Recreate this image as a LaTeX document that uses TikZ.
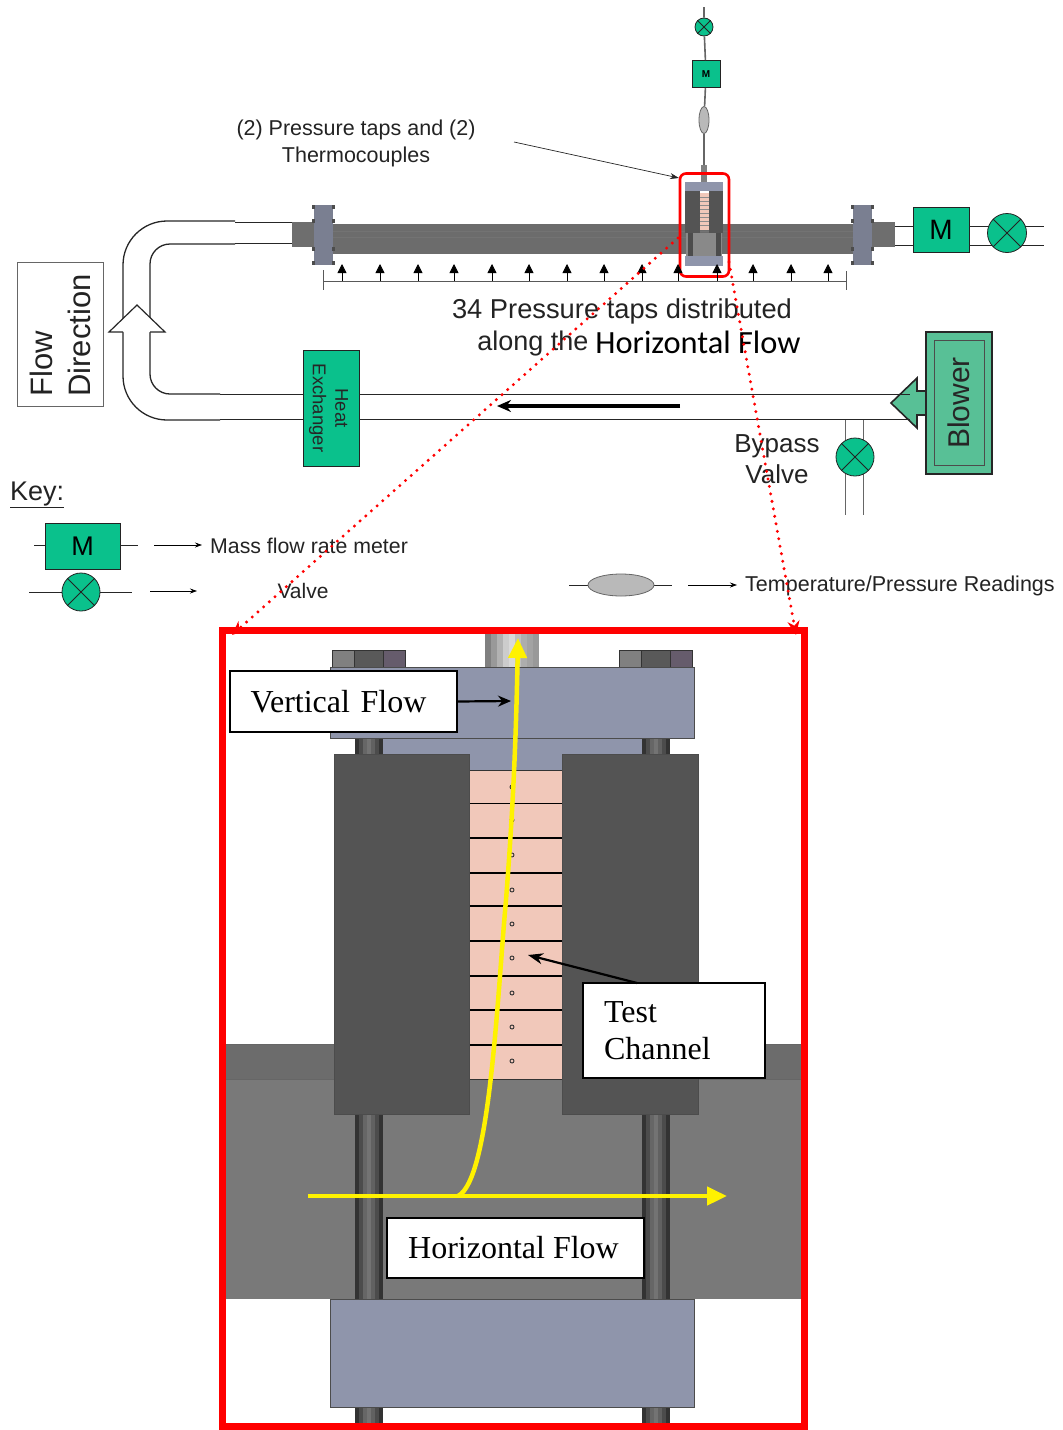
\documentclass[tikz,border=0pt]{standalone}
\usepackage{fontspec}
\setmainfont{Liberation Sans}
\newfontfamily\bodyserif{Liberation Serif}
\newfontfamily\bodycal{Carlito}
\usetikzlibrary{arrows.meta,shapes.geometric}
\definecolor{metergreen}{RGB}{10,193,140}
\definecolor{blowgreen}{RGB}{88,192,150}
\definecolor{plategray}{RGB}{143,149,171}
\definecolor{blockgray}{RGB}{84,84,84}
\definecolor{pipegray}{RGB}{121,121,121}
\definecolor{bandgray}{RGB}{108,108,108}
\definecolor{channelpink}{RGB}{241,200,186}
\definecolor{inkgray}{RGB}{35,35,35}
\definecolor{boltmauve}{RGB}{102,92,108}
\begin{document}
\begin{tikzpicture}[x=1pt,y=-1pt,
  meter/.style={draw=inkgray,fill=metergreen,line width=0.9pt,inner sep=0pt,text=black},
  valve/.style={circle,draw=inkgray,fill=metergreen,line width=0.8pt,inner sep=0pt,minimum size=#1},
  reading/.style={ellipse,draw=gray!80!black,fill=gray!55,line width=0.8pt,inner sep=0pt},
  wall/.style={draw=black!85,line width=0.9pt},
  pipebend/.style={draw=black!85,line width=1.3pt},
  txt/.style={text=inkgray,font=\fontsize{#1}{#1}\selectfont,inner sep=0pt},
  callout/.style={draw=black,fill=white,line width=1.4pt,inner sep=0pt,font=\bodyserif\fontsize{32}{37}\selectfont},
  tap/.style={-{Triangle[length=9pt,width=9pt]},black,line width=0.8pt},
  pointer/.style={-{Stealth[length=7pt,width=5pt]},black,line width=0.7pt},
  heavy/.style={-{Stealth[length=14pt,width=12pt]},black,line width=3.2pt},
  zoomline/.style={red,line width=3.3pt,line cap=round,dash pattern=on 0pt off 7.6pt,
    -{Stealth[length=14pt,width=12pt]},shorten >=0pt}, 
  flow/.style={yellow,line width=4.5pt,-{Triangle[length=20pt,width=18pt]}}]
\useasboundingbox (0,0) rectangle (1063,1430);

\foreach \x in {292,871} \fill[blockgray!85] (\x,222) rectangle (\x+24,247);
\fill[bandgray] (333,224) rectangle (855,254);
\draw[black!55,line width=0.8pt] (333,231) -- (855,231) (333,237) -- (855,237);
\foreach \x in {314,853}
  {\fill[plategray!85!black] (\x,205) rectangle (\x+19,265);
   \foreach \y in {207,221,249,263} \fill[black!70] (\x-2,\y-2) rectangle (\x+21,\y+2);
   \fill[plategray!85!black] (\x+1,205) rectangle (\x+18,265);}

\node[valve=18pt] (vtop) at (704,27) {};
\node[meter,minimum width=28pt,minimum height=27pt,font=\fontsize{10}{10}\selectfont\bfseries] (mtop) at (706,74) {M};
\node[reading,minimum width=10pt,minimum height=27pt] (rtop) at (704,120) {};
\coordinate (stub) at (704,165);
\coordinate (ttop) at (704,7);
\draw[gray!80!black,line width=1.6pt] (ttop) -- (vtop) (vtop) -- (mtop) (mtop) -- (rtop) (rtop) -- (stub);
\fill[gray] (701,165) rectangle (707,182);

\fill[bandgray!80] (686,233) rectangle (722,256);
\foreach \x in {688,716} \fill[black!70] (\x,233) rectangle (\x+5,256);
\fill[plategray] (685,182) rectangle (723,191);
\fill[plategray] (685,256) rectangle (723,266);
\fill[blockgray] (685,191) rectangle (700,233);
\fill[blockgray] (709,191) rectangle (723,233);
\fill[channelpink] (700,193) rectangle (709,230);
\foreach \y in {197,201,205,209,213,217,221,225} \draw[black!45,line width=0.4pt] (700,\y) -- (709,\y);

\node[draw=red,line width=2.6pt,rounded corners=6pt,minimum width=49pt,minimum height=103pt,inner sep=0pt] (zoomsmall) at (704.5,225) {};

\node[txt=21.5,align=center] (taplabel) at (356,143.5) {(2) Pressure taps and (2)\\[5pt]Thermocouples};
\coordinate (tapstart) at (514,142);
\coordinate (tapend) at (679,178);
\draw[-{Stealth[length=9pt,width=6pt]},black!85,line width=0.7pt] (tapstart) -- (tapend);

\foreach \x in {342,380,418,454,492,529,567,604,642,678,717,753,791,828}
  \draw[tap] (\x,281) -- (\x,264);
\draw[gray!70!black,line width=1pt] (323,270) -- (323,290) (323,281) -- (846,281) (846,271) -- (846,290);
\node[txt=27.3] (tapsa) at (622,311) {34 Pressure taps distributed};
\node[txt=27] (tapsb) at (533,344) {along the};
\node[inner sep=0pt,font=\bodycal\fontsize{32.4}{32.4}\selectfont] (tapsc) at (698,342) {Horizontal Flow};

\draw[pipebend,rounded corners=44pt] (235,221) -- (123,221) -- (123,420) -- (220,420);
\draw[pipebend,rounded corners=20pt] (235,244) -- (150,244) -- (150,394) -- (220,394);
\draw[wall] (235,222) -- (292,222) (235,243) -- (292,243);
\fill[white] (124,331) rectangle (149,345);
\filldraw[fill=white,draw=black!85,line width=1.2pt] (123,332) -- (109,332) -- (137,305) -- (165,332) -- (150,332);
\fill[white] (124,331) rectangle (149,345);

\node[draw=gray!80!black,fill=white,line width=0.9pt,minimum width=86pt,minimum height=144pt,inner sep=0pt] (flowbox) at (60,334) {};
\node[txt=31,rotate=90,align=left] at (60,335.5) {Flow\\[7pt]Direction};

\node[meter,minimum width=56pt,minimum height=116pt] (hx) at (331,408) {};
\node[txt=18.5,rotate=-90,align=center,text=black!85] at (328.5,408) {Heat\\[4pt]Exchanger};
\draw[wall] (220,394) -- (hx.west |- 0,394) (220,419) -- (hx.west |- 0,419);

\filldraw[fill=blowgreen,draw=black!85,line width=1.6pt] (926,391) -- (917,391) -- (917,378) -- (891,403) -- (917,428) -- (917,415) -- (926,415);
\node[draw=black!85,fill=blowgreen,line width=1.6pt,minimum width=66pt,minimum height=142pt,inner sep=0pt] (blower) at (959,403) {};
\node[draw=black!70,line width=0.8pt,minimum width=50pt,minimum height=125pt,inner sep=0pt] (blowerin) at (blower) {};
\node[txt=30,rotate=90,text=black!85] at (blower) {Blower};
\draw[wall] (hx.east |- 0,394) -- (910,394) (hx.east |- 0,419) -- (910,419);
\coordinate (flowmarka) at (680,406);
\coordinate (flowmarkb) at (497,406);
\draw[heavy] (flowmarka) -- (flowmarkb);

\node[txt=26,align=center] (bypass) at (777,459) {Bypass\\[5pt]Valve};
\coordinate (bypassa) at (845,420);
\coordinate (bypassb) at (863,420);
\coordinate (bypassc) at (845,515);
\coordinate (bypassd) at (863,515);
\draw[gray!80!black,line width=0.9pt] (bypassa) -- (bypassc) (bypassb) -- (bypassd);
\node[valve=38pt] (vbypass) at (855,457) {};

\node[meter,minimum width=56pt,minimum height=45pt,font=\fontsize{28}{28}\selectfont] (mright) at (941,229.5) {M};
\coordinate (endr) at (1044,226);
\coordinate (endq) at (1044,245);
\draw[wall] (895,226) -- (mright.west |- 0,226) (mright.east |- 0,226) -- (endr);
\draw[wall] (895,245) -- (mright.west |- 0,245) (mright.east |- 0,245) -- (endq);
\node[valve=39pt] (vright) at (1007,233) {};

\node[txt=27,anchor=west] (keylabel) at (10,495) {\underline{Key:}};
\node[meter,minimum width=75pt,minimum height=46pt,font=\fontsize{27}{27}\selectfont] (mkey) at (82.5,546) {M};
\coordinate (mkeya) at (34,545);
\coordinate (mkeyb) at (138,545);
\draw[wall] (mkeya) -- (mkey.west |- 0,545) (mkey.east |- 0,545) -- (mkeyb);
\node[txt=21.3,anchor=west] (mlabel) at (210,546) {Mass flow rate meter};
\coordinate (marrow) at (154,545);
\coordinate (marrowend) at (202,545);
\draw[pointer] (marrow) -- (marrowend);

\coordinate (vkeya) at (29,592);
\coordinate (vkeyb) at (132,592);
\draw[wall] (vkeya) -- (vkeyb);
\node[valve=38pt] (vkey) at (81,592) {};
\node[txt=21] (vlabel) at (303,591) {Valve};
\coordinate (varrow) at (150,591);
\coordinate (varrowend) at (197,591);
\draw[pointer] (varrow) -- (varrowend);

\coordinate (rkeya) at (569,585);
\coordinate (rkeyb) at (672,585);
\draw[wall] (rkeya) -- (rkeyb);
\node[reading,minimum width=66pt,minimum height=22pt] (rkey) at (621,585) {};
\node[txt=21.5,anchor=west] (rlabel) at (745,586) {Temperature/Pressure Readings};
\coordinate (rarrow) at (688,585);
\coordinate (rarrowend) at (737,585);
\draw[pointer] (rarrow) -- (rarrowend);

\foreach \v in {vtop,vbypass,vright,vkey}
  \draw[inkgray,line width=0.8pt] (\v.north west) -- (\v.south east) (\v.north east) -- (\v.south west);

\begin{scope}
\fill[bandgray] (225,1044) rectangle (801,1079);
\fill[pipegray] (225,1079) rectangle (801,1299);
\draw[black!60,line width=0.6pt] (225,1044) -- (801,1044) (225,1079) -- (801,1079);
\foreach \x in {355,642}
  \foreach \i/\c in {0/80,4/70,8/60,12/55,16/62,20/70,24/80}
    {\fill[black!\c] (\x+\i,738) rectangle (\x+\i+4.3,754);
     \fill[black!\c] (\x+\i,1114) rectangle (\x+\i+4.3,1299);
     \fill[black!\c] (\x+\i,1407) rectangle (\x+\i+4.3,1426);}
\foreach \i/\c in {0/50,6/40,12/30,18/20,24/15,30/25,36/32,42/36,48/40}
  \fill[black!\c] (485+\i,633) rectangle (485+\i+6.3,667);
\foreach \x in {332,619}
  {\filldraw[fill=black!50,draw=black!80,line width=0.8pt] (\x,650) rectangle (\x+22,667);
   \filldraw[fill=black!65,draw=black!80,line width=0.8pt] (\x+22,650) rectangle (\x+51,667);
   \filldraw[fill=boltmauve,draw=black!80,line width=0.8pt] (\x+51,650) rectangle (\x+73,667);}
\fill[plategray] (383,738) rectangle (642,772);
\filldraw[fill=plategray,draw=black!70,line width=0.8pt] (330,667) rectangle (694,738);
\filldraw[fill=plategray,draw=black!70,line width=0.8pt] (330,1299) rectangle (694,1407);
\fill[channelpink] (469,770) rectangle (562,1079);
\foreach \y in {803.5,838,873,906,941,976,1010,1045}
  \draw[black,line width=1.3pt] (469,\y) -- (562,\y);
\draw[black!80,line width=0.8pt] (469,770) -- (562,770) (469,1079) -- (562,1079);
\foreach \y in {787,820,855,890,924,958,993,1027,1061}
  \draw[black!80,line width=0.9pt] (512,\y) circle (2);
\filldraw[fill=blockgray,draw=black!70,line width=0.8pt] (334,754) rectangle (469,1114);
\filldraw[fill=blockgray,draw=black!70,line width=0.8pt] (562,754) rectangle (698,1114);
\end{scope}

\coordinate (hstart) at (308,1196);
\coordinate (hend) at (727,1196);
\coordinate (hturn) at (458,1196);
\coordinate (vend) at (518,638);
\draw[flow] (hstart) -- (hend);
\draw[flow] (hturn) .. controls (490,1180) and (497,1000) .. (506,900) .. controls (513,810) and (516,740) .. (vend);

\node[callout,minimum width=227pt,minimum height=61pt,text width=206pt,align=left] (vflow) at (343.5,701.5) {\hspace{10pt}Vertical Flow};
\coordinate (vflowend) at (511,701);
\draw[heavy,line width=2.2pt,-{Stealth[length=13pt,width=11pt]}] (vflow.east) -- (vflowend);
\node[callout,minimum width=182pt,minimum height=95pt,align=left,text width=161pt] (tchan) at (674,1030.5) {\hspace{10.5pt}Test\\\hspace{10.5pt}Channel};
\coordinate (tchanstart) at (637,983);
\coordinate (tchanend) at (528,955);
\draw[heavy,line width=2.2pt,-{Stealth[length=15pt,width=11pt]}] (tchanstart) -- (tchanend);
\node[callout,minimum width=257pt,minimum height=60pt] (hflow) at (515.5,1248) {\hspace{-4pt}Horizontal Flow};

\node[draw=red,line width=7pt,minimum width=582pt,minimum height=796pt,inner sep=0pt] (zoombig) at (513,1028) {};
\coordinate (zoomfromleft) at (678,238);
\coordinate (zoomfromright) at (729,262);
\coordinate (tipleft) at (232,635);
\coordinate (tipright) at (796,635);
\draw[zoomline] (zoomfromleft) -- (tipleft);
\draw[zoomline] (zoomfromright) -- (tipright);
\end{tikzpicture}
\end{document}
